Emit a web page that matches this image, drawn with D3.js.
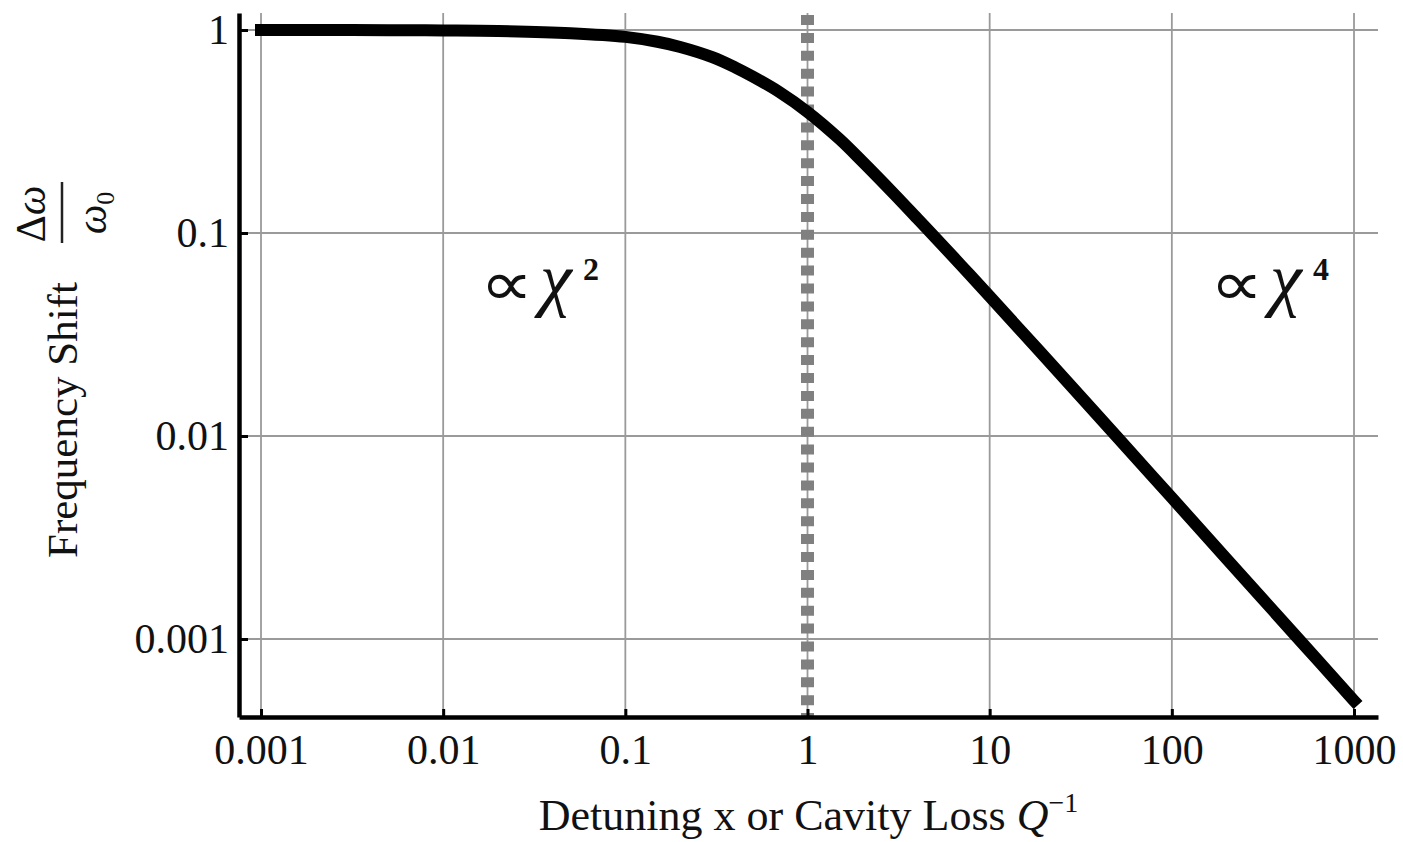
<!DOCTYPE html>
<html>
<head>
<meta charset="utf-8">
<script src="https://cdn.jsdelivr.net/npm/d3@7"></script>
<style>
  body { margin: 0; background: #fff; }
  svg { display: block; font-family: "Liberation Serif", "Times New Roman", serif; }
</style>
</head>
<body>
<svg id="chart" width="1403" height="842"></svg>
<script>
// values
const detuning   = [0.001, 0.002, 0.005, 0.01, 0.02, 0.05, 0.1, 0.15, 0.2, 0.3, 0.4, 0.5, 0.7, 1, 1.5, 2, 3, 4, 5, 7, 10, 20, 50, 100, 200, 500, 1000];
const freq_shift = [1.0, 0.9995, 0.998, 0.995, 0.989, 0.965, 0.925, 0.875, 0.825, 0.735, 0.655, 0.59, 0.495, 0.395, 0.29, 0.225, 0.155, 0.118, 0.0955, 0.069, 0.0487, 0.0246, 0.0099, 0.00496, 0.00248, 0.000993, 0.000497];

const x_ticks = [0.001, 0.01, 0.1, 1, 10, 100, 1000];
const x_tick_labels = ["0.001", "0.01", "0.1", "1", "10", "100", "1000"];
const y_ticks = [1, 0.1, 0.01, 0.001];
const y_tick_labels = ["1", "0.1", "0.01", "0.001"];
const crossover = 1;

const svg = d3.select("#chart");

// plot frame
const frame = { left: 239, right: 1378, top: 13, bottom: 717 };

const x = d3.scaleLog()
    .domain([Math.pow(10, -3.1208), Math.pow(10, 3.1317)])
    .range([frame.left, frame.right]);
const y = d3.scaleLog()
    .domain([Math.pow(10, -3.3842), Math.pow(10, 0.0837)])
    .range([frame.bottom, frame.top]);

// grid
const grid = svg.append("g").attr("stroke", "#9a9a9a").attr("stroke-width", 1.8);
grid.selectAll("line.v")
    .data(x_ticks)
    .join("line")
    .attr("class", "v")
    .attr("x1", d => x(d)).attr("x2", d => x(d))
    .attr("y1", frame.top).attr("y2", frame.bottom);
grid.selectAll("line.h")
    .data(y_ticks)
    .join("line")
    .attr("class", "h")
    .attr("x1", frame.left).attr("x2", frame.right)
    .attr("y1", d => y(d)).attr("y2", d => y(d));

// dotted crossover line
svg.append("line")
    .attr("x1", x(crossover)).attr("x2", x(crossover))
    .attr("y1", frame.top + 2).attr("y2", frame.bottom)
    .attr("stroke", "#808080")
    .attr("stroke-width", 13)
    .attr("stroke-dasharray", "10 7.9");

// curve
const pts = detuning.map((d, i) => [d, freq_shift[i]]);
const line = d3.line()
    .x(d => x(d[0]))
    .y(d => y(d[1]))
    .curve(d3.curveCatmullRom.alpha(0.5));
svg.append("path")
    .datum(pts)
    .attr("d", line)
    .attr("fill", "none")
    .attr("stroke", "#000")
    .attr("stroke-width", 12)
    .attr("stroke-linecap", "square")
    .attr("stroke-linejoin", "round");

// axes
const x_axis = svg.append("g")
    .attr("transform", `translate(0,${frame.bottom})`)
    .call(d3.axisBottom(x)
        .tickValues(x_ticks)
        .tickFormat((d, i) => x_tick_labels[i])
        .tickSize(-8)
        .tickSizeOuter(0)
        .tickPadding(17));
const y_axis = svg.append("g")
    .attr("transform", `translate(${frame.left},0)`)
    .call(d3.axisLeft(y)
        .tickValues(y_ticks)
        .tickFormat((d, i) => y_tick_labels[i])
        .tickSize(-9)
        .tickSizeOuter(0)
        .tickPadding(10));

[x_axis, y_axis].forEach(a => {
    a.select(".domain").attr("stroke", "#000").attr("stroke-width", 4.5);
    a.selectAll(".tick line").attr("stroke", "#000").attr("stroke-width", 3);
    a.selectAll(".tick text")
        .attr("fill", "#111")
        .style("font-family", "'Liberation Serif', 'Times New Roman', serif")
        .style("font-size", "42px");
});

// x title
const xt = svg.append("text")
    .attr("x", (frame.left + frame.right) / 2)
    .attr("y", 830)
    .attr("text-anchor", "middle")
    .attr("fill", "#111")
    .style("font-size", "44px");
xt.append("tspan").text("Detuning x or Cavity Loss ");
xt.append("tspan").attr("font-style", "italic").text("Q");
xt.append("tspan").attr("dy", -18).style("font-size", "28px").text("\u22121");

// y title (rotated)
const yt = svg.append("g").attr("transform", "rotate(-90)");
yt.append("text")
    .attr("x", -558).attr("y", 77)
    .attr("fill", "#111")
    .style("font-size", "43px")
    .text("Frequency Shift");
yt.append("text")
    .attr("x", -214).attr("y", 45)
    .attr("text-anchor", "middle")
    .attr("fill", "#111")
    .style("font-size", "42px")
    .html('\u0394<tspan font-style="italic">\u03c9</tspan>');
yt.append("line")
    .attr("x1", -243).attr("x2", -182)
    .attr("y1", 62).attr("y2", 62)
    .attr("stroke", "#222").attr("stroke-width", 2.5);
yt.append("text")
    .attr("x", -213).attr("y", 106)
    .attr("text-anchor", "middle")
    .attr("fill", "#111")
    .style("font-size", "42px")
    .html('<tspan font-style="italic">\u03c9</tspan><tspan dy="8" font-size="26">0</tspan>');

// scaling annotations
function annot(px, exp) {
    const g = svg.append("g").attr("fill", "#111");
    g.append("text")
        .attr("transform", `translate(${px},305) scale(1.2,1)`)
        .style("font-family", "'DejaVu Sans', sans-serif")
        .attr("font-weight", 200)
        .style("font-size", "62px")
        .text("\u221d");
    g.append("text")
        .attr("x", px + 60).attr("y", 303)
        .attr("font-style", "italic")
        .style("font-size", "72px")
        .text("\u03c7");
    g.append("text")
        .attr("x", px + 103).attr("y", 280)
        .attr("font-weight", "bold")
        .style("font-size", "32px")
        .text(exp);
}
annot(480, "2");
annot(1210, "4");
</script>
</body>
</html>
